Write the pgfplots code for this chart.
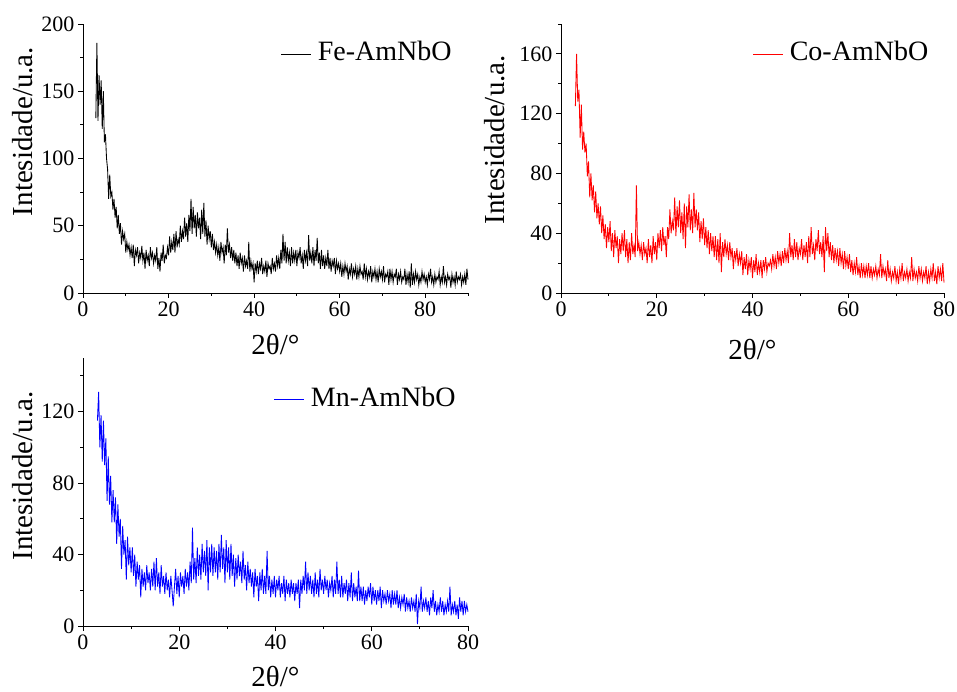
\documentclass[border=0pt]{standalone}
\usepackage{fontspec}
\setmainfont{Liberation Serif}
\usepackage{pgfplots}
\pgfplotsset{compat=1.18}

\pgfplotstableread{
x y
3.00 130
3.25 186
3.50 128
3.75 162
4.00 140
4.25 158
4.50 122
4.75 150
5.00 112
5.25 118
5.50 100
5.75 92
6.00 70
6.25 88
6.50 72
6.75 75
7.00 62
7.25 70
7.50 56
7.75 64
8.00 48
8.25 58
8.50 44
8.75 52
9.00 36
9.25 46
9.50 40
9.75 44
10.00 30
10.25 38
10.50 32
10.75 36
11.00 28
11.25 34
11.50 26
11.75 36
12.00 20
12.25 32
12.50 28
12.75 34
13.00 22
13.25 30
13.50 26
13.75 35
14.00 24
14.25 30
14.50 18
14.75 32
15.00 24
15.25 28
15.50 20
15.75 34
16.00 26
16.25 30
16.50 22
16.75 28
17.00 24
17.25 34
17.50 18
17.75 26
18.00 16
18.25 30
18.50 24
18.75 36
19.00 22
19.25 28
19.50 26
19.75 34
20.00 28
20.25 42
20.50 30
20.75 38
21.00 32
21.25 44
21.50 30
21.75 46
22.00 34
22.25 40
22.50 36
22.75 50
23.00 38
23.25 46
23.50 40
23.75 56
24.00 42
24.25 52
24.50 38
24.75 58
25.00 46
25.25 70
25.50 44
25.75 64
26.00 48
26.25 58
26.50 42
26.75 60
27.00 48
27.25 56
27.50 40
27.75 62
28.00 44
28.25 67
28.50 42
28.75 54
29.00 36
29.25 50
29.50 40
29.75 46
30.00 34
30.25 44
30.50 32
30.75 38
31.00 30
31.25 36
31.50 28
31.75 34
32.00 24
32.25 38
32.50 30
32.75 34
33.00 22
33.25 36
33.50 28
33.75 48
34.00 30
34.25 36
34.50 26
34.75 34
35.00 24
35.25 32
35.50 22
35.75 30
36.00 20
36.25 28
36.50 18
36.75 30
37.00 22
37.25 26
37.50 16
37.75 28
38.00 20
38.25 24
38.50 18
38.75 38
39.00 16
39.25 24
39.50 18
39.75 22
40.00 8
40.25 22
40.50 16
40.75 24
41.00 14
41.25 22
41.50 18
41.75 26
42.00 14
42.25 20
42.50 16
42.75 24
43.00 12
43.25 22
43.50 18
43.75 20
44.00 14
44.25 26
44.50 18
44.75 22
45.00 16
45.25 28
45.50 20
45.75 26
46.00 18
46.25 32
46.50 22
46.75 44
47.00 24
47.25 38
47.50 22
47.75 34
48.00 24
48.25 30
48.50 20
48.75 34
49.00 22
49.25 30
49.50 24
49.75 32
50.00 20
50.25 30
50.50 26
50.75 34
51.00 22
51.25 28
51.50 18
51.75 32
52.00 24
52.25 30
52.50 20
52.75 43
53.00 24
53.25 30
53.50 22
53.75 34
54.00 20
54.25 32
54.50 24
54.75 41
55.00 22
55.25 30
55.50 18
55.75 32
56.00 20
56.25 28
56.50 18
56.75 26
57.00 20
57.25 32
57.50 18
57.75 26
58.00 16
58.25 24
58.50 20
58.75 26
59.00 14
59.25 24
59.50 18
59.75 22
60.00 16
60.25 22
60.50 12
60.75 20
61.00 14
61.25 22
61.50 16
61.75 20
62.00 10
62.25 18
62.50 14
62.75 22
63.00 12
63.25 18
63.50 14
63.75 20
64.00 10
64.25 18
64.50 12
64.75 20
65.00 14
65.25 16
65.50 10
65.75 22
66.00 12
66.25 18
66.50 10
66.75 16
67.00 12
67.25 20
67.50 8
67.75 16
68.00 12
68.25 18
68.50 10
68.75 16
69.00 8
69.25 18
69.50 12
69.75 16
70.00 10
70.25 20
70.50 8
70.75 14
71.00 12
71.25 16
71.50 6
71.75 18
72.00 10
72.25 16
72.50 8
72.75 14
73.00 12
73.25 18
73.50 6
73.75 14
74.00 10
74.25 16
74.50 8
74.75 12
75.00 10
75.25 18
75.50 6
75.75 14
76.00 8
76.25 16
76.50 4
76.75 22
77.00 6
77.25 14
77.50 8
77.75 16
78.00 10
78.25 14
78.50 6
78.75 12
79.00 8
79.25 16
79.50 10
79.75 14
80.00 8
80.25 12
80.50 6
80.75 14
81.00 10
81.25 18
81.50 8
81.75 12
82.00 6
82.25 14
82.50 8
82.75 12
83.00 10
83.25 16
83.50 6
83.75 12
84.00 8
84.25 20
84.50 8
84.75 12
85.00 6
85.25 14
85.50 10
85.75 12
86.00 4
86.25 14
86.50 8
86.75 12
87.00 6
87.25 16
87.50 8
87.75 12
88.00 10
88.25 14
88.50 6
88.75 12
89.00 8
89.25 14
89.50 6
89.75 18
90.00 10
}\fedata

\pgfplotstableread{
x y
3.00 125
3.25 160
3.50 128
3.75 136
4.00 104
4.25 126
4.50 96
4.75 108
5.00 94
5.25 100
5.50 78
5.75 88
6.00 64
6.25 80
6.50 62
6.75 72
7.00 54
7.25 68
7.50 50
7.75 60
8.00 46
8.25 58
8.50 40
8.75 52
9.00 36
9.25 46
9.50 30
9.75 44
10.00 34
10.25 48
10.50 28
10.75 40
11.00 24
11.25 42
11.50 30
11.75 38
12.00 20
12.25 36
12.50 26
12.75 40
13.00 28
13.25 42
13.50 24
13.75 36
14.00 20
14.25 34
14.50 22
14.75 40
15.00 26
15.25 32
15.50 24
15.75 72
16.00 28
16.25 34
16.50 26
16.75 32
17.00 22
17.25 34
17.50 26
17.75 30
18.00 20
18.25 36
18.50 24
18.75 32
19.00 20
19.25 38
19.50 26
19.75 34
20.00 22
20.25 40
20.50 30
20.75 42
21.00 28
21.25 44
21.50 32
21.75 38
22.00 24
22.25 44
22.50 36
22.75 56
23.00 40
23.25 48
23.50 42
23.75 64
24.00 38
24.25 58
24.50 44
24.75 62
25.00 40
25.25 54
25.50 36
25.75 60
26.00 30
26.25 58
26.50 44
26.75 66
27.00 42
27.25 56
27.50 40
27.75 67
28.00 44
28.25 56
28.50 42
28.75 54
29.00 34
29.25 48
29.50 36
29.75 50
30.00 32
30.25 44
30.50 30
30.75 42
31.00 26
31.25 40
31.50 28
31.75 38
32.00 24
32.25 38
32.50 22
32.75 36
33.00 20
33.25 40
33.50 14
33.75 34
34.00 24
34.25 36
34.50 26
34.75 32
35.00 22
35.25 34
35.50 24
35.75 30
36.00 16
36.25 28
36.50 22
36.75 30
37.00 18
37.25 26
37.50 20
37.75 28
38.00 12
38.25 24
38.50 16
38.75 26
39.00 12
39.25 22
39.50 16
39.75 24
40.00 10
40.25 22
40.50 14
40.75 26
41.00 12
41.25 20
41.50 14
41.75 22
42.00 10
42.25 22
42.50 16
42.75 24
43.00 14
43.25 20
43.50 18
43.75 22
44.00 16
44.25 26
44.50 18
44.75 24
45.00 16
45.25 28
45.50 20
45.75 26
46.00 18
46.25 28
46.50 20
46.75 30
47.00 22
47.25 28
47.50 20
47.75 40
48.00 24
48.25 32
48.50 22
48.75 36
49.00 24
49.25 34
49.50 22
49.75 30
50.00 26
50.25 36
50.50 22
50.75 32
51.00 24
51.25 34
51.50 20
51.75 38
52.00 24
52.25 44
52.50 26
52.75 32
53.00 22
53.25 36
53.50 28
53.75 42
54.00 26
54.25 34
54.50 24
54.75 38
55.00 14
55.25 44
55.50 28
55.75 40
56.00 24
56.25 34
56.50 22
56.75 32
57.00 20
57.25 30
57.50 22
57.75 28
58.00 18
58.25 30
58.50 20
58.75 26
59.00 16
59.25 28
59.50 18
59.75 24
60.00 16
60.25 26
60.50 14
60.75 22
61.00 12
61.25 20
61.50 14
61.75 24
62.00 12
62.25 18
62.50 10
62.75 20
63.00 12
63.25 18
63.50 10
63.75 18
64.00 12
64.25 20
64.50 10
64.75 18
65.00 10
65.25 16
65.50 12
65.75 18
66.00 10
66.25 16
66.50 12
66.75 26
67.00 10
67.25 18
67.50 12
67.75 16
68.00 8
68.25 22
68.50 10
68.75 16
69.00 8
69.25 14
69.50 10
69.75 18
70.00 8
70.25 14
70.50 6
70.75 16
71.00 10
71.25 20
71.50 8
71.75 14
72.00 10
72.25 16
72.50 8
72.75 14
73.00 10
73.25 24
73.50 8
73.75 16
74.00 10
74.25 14
74.50 8
74.75 18
75.00 10
75.25 16
75.50 8
75.75 14
76.00 10
76.25 18
76.50 6
76.75 14
77.00 8
77.25 16
77.50 10
77.75 20
78.00 8
78.25 14
78.50 6
78.75 18
79.00 10
79.25 16
79.50 8
79.75 20
80.00 7
}\codata

\pgfplotstableread{
x y
3.00 115
3.25 131
3.50 100
3.75 118
4.00 92
4.25 115
4.50 90
4.75 105
5.00 70
5.25 95
5.50 68
5.75 84
6.00 58
6.25 76
6.50 58
6.75 72
7.00 46
7.25 68
7.50 50
7.75 60
8.00 32
8.25 56
8.50 40
8.75 48
9.00 26
9.25 50
9.50 34
9.75 44
10.00 30
10.25 44
10.50 28
10.75 40
11.00 22
11.25 36
11.50 26
11.75 34
12.00 16
12.25 32
12.50 22
12.75 30
13.00 20
13.25 34
13.50 24
13.75 30
14.00 20
14.25 32
14.50 22
14.75 36
15.00 20
15.25 38
15.50 22
15.75 30
16.00 18
16.25 34
16.50 22
16.75 28
17.00 18
17.25 30
17.50 20
17.75 26
18.00 16
18.25 28
18.50 20
18.75 11
19.00 22
19.25 32
19.50 18
19.75 28
20.00 16
20.25 30
20.50 22
20.75 28
21.00 18
21.25 32
21.50 22
21.75 30
22.00 20
22.25 36
22.50 24
22.75 55
23.00 26
23.25 38
23.50 24
23.75 44
24.00 28
24.25 40
24.50 26
24.75 46
25.00 30
25.25 42
25.50 28
25.75 48
26.00 20
26.25 44
26.50 30
26.75 46
27.00 28
27.25 44
27.50 30
27.75 42
28.00 26
28.25 46
28.50 30
28.75 51
29.00 32
29.25 44
29.50 24
29.75 48
30.00 30
30.25 44
30.50 26
30.75 46
31.00 28
31.25 40
31.50 22
31.75 38
32.00 26
32.25 40
32.50 28
32.75 36
33.00 24
33.25 42
33.50 26
33.75 34
34.00 20
34.25 36
34.50 24
34.75 32
35.00 22
35.25 30
35.50 16
35.75 32
36.00 22
36.25 28
36.50 14
36.75 30
37.00 20
37.25 32
37.50 18
37.75 28
38.00 18
38.25 42
38.50 20
38.75 28
39.00 16
39.25 26
39.50 18
39.75 28
40.00 16
40.25 26
40.50 20
40.75 28
41.00 16
41.25 24
41.50 18
41.75 28
42.00 14
42.25 26
42.50 18
42.75 24
43.00 16
43.25 26
43.50 18
43.75 24
44.00 14
44.25 24
44.50 18
44.75 26
45.00 10
45.25 26
45.50 18
45.75 28
46.00 20
46.25 36
46.50 18
46.75 30
47.00 20
47.25 28
47.50 18
47.75 26
48.00 16
48.25 30
48.50 18
48.75 26
49.00 16
49.25 32
49.50 20
49.75 26
50.00 18
50.25 28
50.50 20
50.75 26
51.00 16
51.25 24
51.50 20
51.75 28
52.00 16
52.25 26
52.50 18
52.75 36
53.00 18
53.25 26
53.50 16
53.75 28
54.00 16
54.25 24
54.50 18
54.75 26
55.00 14
55.25 24
55.50 16
55.75 30
56.00 14
56.25 24
56.50 16
56.75 22
57.00 14
57.25 31
57.50 14
57.75 22
58.00 14
58.25 22
58.50 12
58.75 20
59.00 14
59.25 22
59.50 16
59.75 24
60.00 12
60.25 22
60.50 14
60.75 20
61.00 12
61.25 20
61.50 14
61.75 22
62.00 10
62.25 20
62.50 14
62.75 18
63.00 12
63.25 20
63.50 14
63.75 18
64.00 10
64.25 20
64.50 12
64.75 18
65.00 12
65.25 20
65.50 10
65.75 16
66.00 10
66.25 16
66.50 12
66.75 18
67.00 8
67.25 16
67.50 10
67.75 14
68.00 8
68.25 16
68.50 10
68.75 14
69.00 8
69.25 18
69.50 1
69.75 14
70.00 10
70.25 22
70.50 8
70.75 14
71.00 10
71.25 16
71.50 8
71.75 14
72.00 6
72.25 16
72.50 10
72.75 20
73.00 8
73.25 14
73.50 6
73.75 12
74.00 8
74.25 16
74.50 8
74.75 14
75.00 6
75.25 12
75.50 8
75.75 14
76.00 8
76.25 22
76.50 6
76.75 12
77.00 8
77.25 14
77.50 6
77.75 12
78.00 4
78.25 16
78.50 8
78.75 14
79.00 6
79.25 14
79.50 8
79.75 12
80.00 8
}\mndata

\pgfplotsset{
  xrd/.style={
    scale only axis,
    anchor=south west,
    axis x line=bottom, axis y line=left,
    axis line style={-, line width=0.9pt, black},
    tick align=outside,
    major tick length=5pt, minor tick length=3pt,
    every tick/.style={black, line width=0.9pt},
    xmin=0, ymin=0,
    /pgf/number format/assume math mode=true,
    ticklabel style={font=\fontsize{22}{22}\selectfont},
    label style={font=\fontsize{29}{29}\selectfont},
    xlabel={2θ/°},
    ylabel={Intesidade/u.a.},
    legend style={draw=none, fill=none, anchor=west,
      font=\fontsize{28}{28}\selectfont, inner sep=0pt,
      column sep=0pt, nodes={inner sep=1pt}},
    legend image code/.code={\draw[#1, line width=0.6pt] (0pt,-2pt) -- (30pt,-2pt); \path (35pt,-2pt);},
    clip=false,
  },
}

\begin{document}
\begin{tikzpicture}
\path[use as bounding box] (0pt,0pt) rectangle (957pt,691pt);

% Fe
\begin{axis}[xrd,
  at={(83pt,398pt)}, width=385pt, height=269pt,
  xmax=90, ymax=200,
  xtick={0,20,40,60,80}, minor xtick={10,30,50,70,90},
  ytick={0,50,100,150,200}, minor ytick={25,75,125,175},
  xlabel style={at={(axis description cs:0.5,-0.193)}, anchor=center},
  ylabel style={at={(axis description cs:-0.156,0.6)}, anchor=center},
  legend style={at={(axis description cs:0.514,0.896)}},
]
\addplot[black, line width=0.85pt] table {\fedata};
\addlegendentry{Fe-AmNbO}
\end{axis}

% Co
\begin{axis}[xrd,
  at={(561pt,398pt)}, width=383pt, height=269pt,
  xmax=80, ymax=180,
  xtick={0,20,40,60,80}, minor xtick={10,30,50,70},
  ytick={0,40,80,120,160}, minor ytick={20,60,100,140,180},
  xlabel style={at={(axis description cs:0.5,-0.21)}, anchor=center},
  ylabel style={at={(axis description cs:-0.172,0.57)}, anchor=center},
  legend style={at={(axis description cs:0.501,0.896)}},
]
\addplot[red, line width=0.85pt] table {\codata};
\addlegendentry{Co-AmNbO}
\end{axis}

% Mn
\begin{axis}[xrd,
  at={(83pt,65pt)}, width=385pt, height=268pt,
  xmax=80, ymax=150,
  xtick={0,20,40,60,80}, minor xtick={10,30,50,70},
  ytick={0,40,80,120}, minor ytick={20,60,100,140},
  xlabel style={at={(axis description cs:0.5,-0.188)}, anchor=center},
  ylabel style={at={(axis description cs:-0.156,0.56)}, anchor=center},
  legend style={at={(axis description cs:0.496,0.854)}},
]
\addplot[blue, line width=0.85pt] table {\mndata};
\addlegendentry{Mn-AmNbO}
\end{axis}
\end{tikzpicture}
\end{document}
